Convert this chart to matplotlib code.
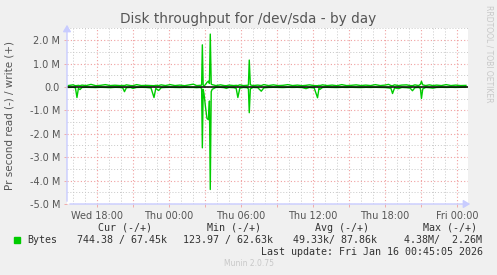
import matplotlib
matplotlib.use("Agg")
import matplotlib.pyplot as plt
from matplotlib.ticker import FixedLocator, MultipleLocator, FuncFormatter

# hours relative to Wed 18:00, write (+) and read (-) in kB/s
hours = [-2.4, -2.0, -1.8, -1.67, -1.55, -1.42, -1.25, -0.9, -0.5, -0.1,
         0.3, 0.7, 1.1, 1.5, 1.9, 2.15, 2.29, 2.45, 2.8, 3.0,
         3.3, 3.7, 4.1, 4.5, 4.75, 4.9, 5.14, 5.35, 5.7, 6.1,
         6.5, 6.9, 7.3, 7.7, 8.03, 8.3, 8.6, 8.72, 8.78, 8.85,
         8.92, 9.04, 9.17, 9.29, 9.37, 9.44, 9.52, 9.6, 9.9, 10.3,
         10.6, 10.78, 11.0, 11.4, 11.6, 11.74, 11.9, 12.2, 12.5, 12.62,
         12.69, 12.78, 13.0, 13.4, 13.69, 13.9, 14.3, 14.7, 15.1, 15.5,
         15.9, 16.3, 16.7, 17.1, 17.42, 17.7, 18.1, 18.38, 18.5, 18.58,
         18.8, 19.2, 19.6, 20.0, 20.4, 20.8, 21.2, 21.6, 22.0, 22.4,
         22.8, 23.2, 23.6, 24.0, 24.3, 24.5, 24.63, 24.8, 25.14, 25.4,
         25.8, 26.1, 26.29, 26.5, 26.8, 26.95, 27.04, 27.15, 27.4, 27.7,
         28.0, 28.3, 28.7, 29.1, 29.5, 29.9, 30.3, 30.75]
write_k = [60, 90, 55, 60, 70, 55, 80, 60, 110, 55,
           70, 100, 60, 75, 60, 65, 60, 90, 60, 55,
           100, 60, 70, 60, 55, 70, 60, 90, 60, 100,
           60, 80, 55, 90, 120, 60, 70, 80, 1800, 80,
           50, 100, 200, 250, 150, 2260, 120, 100, 60, 90,
           60, 55, 80, 60, 70, 60, 90, 60, 70, 80,
           1150, 90, 60, 80, 60, 100, 60, 90, 60, 70,
           100, 60, 80, 55, 70, 90, 60, 55, 70, 60,
           90, 60, 80, 55, 100, 60, 70, 90, 60, 80,
           60, 100, 60, 80, 110, 60, 55, 90, 60, 80,
           90, 60, 55, 90, 60, 110, 240, 90, 60, 90,
           60, 80, 60, 100, 60, 80, 60, 67.45]
read_k = [20, 15, 30, 450, 60, 110, 20, 15, 20, 25,
          15, 20, 30, 15, 20, 40, 200, 30, 20, 60,
          20, 15, 20, 40, 450, 60, 150, 30, 20, 15,
          20, 25, 15, 20, 20, 30, 20, 60, 2600, 100,
          300, 850, 1350, 1400, 600, 4380, 200, 100, 20, 15,
          30, 60, 20, 30, 60, 450, 50, 20, 30, 80,
          1100, 80, 20, 30, 180, 40, 20, 15, 20, 25,
          15, 20, 15, 25, 70, 20, 40, 460, 60, 100,
          20, 15, 20, 25, 15, 20, 15, 20, 25, 15,
          20, 15, 20, 25, 40, 60, 280, 40, 70, 20,
          30, 50, 160, 30, 20, 60, 490, 80, 20, 30,
          50, 20, 15, 20, 15, 20, 15, 0.744]

tick_hours = [0, 6, 12, 18, 24, 30]
tick_labels = ["Wed 18:00", "Thu 00:00", "Thu 06:00", "Thu 12:00", "Thu 18:00", "Fri 00:00"]
y_ticks = [2e6, 1e6, 0, -1e6, -2e6, -3e6, -4e6, -5e6]

headers = ["Cur (-/+)", "Min (-/+)", "Avg (-/+)", "Max (-/+)"]
stats = ["744.38 / 67.45k", "123.97 / 62.63k", "49.33k/ 87.86k", "4.38M/  2.26M"]

W, H = 497, 275
bg = "#f0f0f0"
fig = plt.figure(figsize=(W / 100, H / 100), dpi=100, facecolor=bg)
ax = fig.add_axes([67 / W, 1 - 204 / H, (468 - 67) / W, (204 - 28) / H])
ax.set_facecolor("white")

write = [v * 1000 for v in write_k]
read = [-v * 1000 for v in read_k]

ax.plot(hours, write, color="#00cc00", lw=1.0, zorder=3)
ax.plot(hours, read, color="#00cc00", lw=1.0, zorder=3)
ax.axhline(0, color="black", lw=1.1, zorder=4)

ax.set_xlim(-2.5, 30.92)
ax.set_ylim(-5e6, 2.52e6)

# grid
ax.xaxis.set_major_locator(MultipleLocator(3))
ax.xaxis.set_minor_locator(MultipleLocator(1))
ax.yaxis.set_major_locator(FixedLocator(y_ticks))
ax.yaxis.set_minor_locator(MultipleLocator(0.5e6))
ax.grid(which="minor", color="#c8c8c8", ls=(0, (1, 2)), lw=0.7, zorder=1)
ax.grid(which="major", color="#f0a0a0", ls=(0, (1, 2)), lw=0.8, zorder=2)
ax.set_axisbelow(True)

labmap = dict(zip(tick_hours, tick_labels))
ax.xaxis.set_major_formatter(FuncFormatter(lambda v, p: labmap.get(int(round(v)), "") if abs(v - round(v)) < 1e-6 else ""))


def yfmt(v, p):
    if abs(v) < 1:
        return "0.0"
    return "%.1f M" % (v / 1e6)


ax.yaxis.set_major_formatter(FuncFormatter(yfmt))
ax.tick_params(which="major", length=2, width=0.6, color="#f0a0a0", labelsize=7, labelcolor="#555555", pad=3)
ax.tick_params(which="minor", length=0)
for s in ax.spines.values():
    s.set_visible(False)

# axes with small arrow heads
axc = "#c8ccff"
ax_style = "-|>,head_length=1.0,head_width=0.6"
fig.add_artist(matplotlib.patches.FancyArrowPatch((67 / W, 1 - 204 / H), (67 / W, 1 - 22 / H),
               transform=fig.transFigure, arrowstyle=ax_style, color=axc, lw=1, mutation_scale=4))
fig.add_artist(matplotlib.patches.FancyArrowPatch((67 / W, 1 - 204 / H), (473 / W, 1 - 204 / H),
               transform=fig.transFigure, arrowstyle=ax_style, color=axc, lw=1, mutation_scale=4))

fig.text(248.5 / W, 1 - 19 / H, "Disk throughput for /dev/sda - by day", ha="center", va="center",
         fontsize=9.8, color="#555555")
fig.text(10 / W, 1 - 115 / H, "Pr second read (-) / write (+)", rotation=90, ha="center", va="center",
         fontsize=7.5, color="#555555")
fig.text(489 / W, 1 - 5 / H, "RRDTOOL / TOBI OETIKER", rotation=-90, ha="center", va="top",
         fontsize=5.5, color="#c8c8c8")

mono = dict(family="DejaVu Sans Mono", fontsize=7.2, color="#333333", va="center")
for x0, t in zip([98, 207, 315, 423], headers):
    fig.text(x0 / W, 1 - 227.7 / H, t, ha="left", **mono)
fig.add_artist(matplotlib.patches.Rectangle((14 / W, 1 - 243 / H), 6 / W, 6 / H, transform=fig.transFigure,
               color="#00cc00"))
fig.text(27 / W, 1 - 240 / H, "Bytes", ha="left", **mono)
for x0, t in zip([77, 183, 293, 404], stats):
    fig.text(x0 / W, 1 - 240 / H, t, ha="left", **mono)
fig.text(483 / W, 1 - 251.7 / H, "Last update: Fri Jan 16 00:45:05 2026", ha="right", **mono)
fig.text(248.5 / W, 1 - 264 / H, "Munin 2.0.75", ha="center", va="center", fontsize=5.5, color="#c8c8c8")

fig.savefig("out.png", dpi=100, facecolor=bg)
